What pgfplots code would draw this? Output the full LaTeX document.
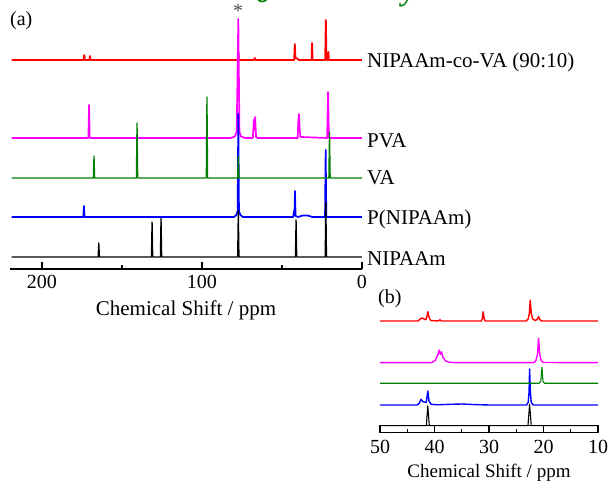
\documentclass[border=0pt]{standalone}
\usepackage{fontspec}
\setmainfont{Liberation Serif}
\usepackage{pgfplots}
\pgfplotsset{compat=1.18}
\definecolor{cRed}{RGB}{255,0,0}
\definecolor{cMag}{RGB}{255,0,255}
\definecolor{cGrn}{RGB}{0,128,0}
\definecolor{cBlu}{RGB}{0,0,255}

\pgfplotsset{
  nmr/.style={
    scale only axis, anchor=south west, clip=false,
    x dir=reverse, xtick align=inside,
    axis line style={line width=1.2pt},
    tick style={line width=1.2pt, black},
    ticklabel style={font=\fontsize{20}{24}\selectfont},
    /pgf/number format/assume math mode=true,
  },
  trace/.style={line width=1.3pt, line join=round, mark=none},
}

\begin{document}
\begin{tikzpicture}
\useasboundingbox (0,0) rectangle (608pt,481pt);

% ---- (a) full spectra ----
\begin{axis}[nmr,
  at={(10pt,212pt)}, width=352pt, height=268pt,
  xmin=0, xmax=220, ymin=0, ymax=268,
  axis x line*=bottom, hide y axis,
  xtick={0,100,200}, minor xtick={50,150},
  major tick length=7pt, minor tick length=3.5pt,
  xticklabel style={yshift=-3pt},
  xlabel={Chemical Shift / ppm},
  xlabel style={font=\fontsize{21}{25}\selectfont, yshift=-5pt},
]
% NIPAAm-co-VA
\addplot[trace, cRed, line width=1.8pt] coordinates {
(219,209)(174.0,209)(173.6,214)(173.2,209)(170.4,209)(170.0,213)(169.6,209)
(77.7,209)(77.3,217)(76.9,209)(67.5,209)(67,211)(66.5,209)
(42.4,209)(42.0,225)(41.6,211)(40.5,210.5)(39.5,209)
(31.5,209)(31.2,226)(30.9,209)(23,209)(22.6,249)(22.2,209)
(21.3,209)(21.0,217)(20.7,209)(0,209)};
% PVA
\addplot[trace, cMag, line width=1.7pt] coordinates {
(219,131)(171,131)(170.6,164)(170.2,131)
(82,131)(79.5,132.5)(78.3,137)(77.3,250)(76.6,137)(75.6,132.5)(73,131)
(68.2,131)(67.6,149)(67.2,140)(66.8,152)(66.2,132)(65,131)
(40.2,131)(39.8,148)(39.4,155)(39.0,140)(38.5,132)
(21.8,131)(21.2,177)(20.7,131)(0,131)};
% P(NIPAAm)
\addplot[trace, cBlu, line width=1.7pt] coordinates {
(219,52)(174.2,52)(173.8,63)(173.4,52)
(80,52)(78.5,54)(77.7,58)(77.3,155)(76.9,58)(76,54)(74.5,52)
(43,52)(42.5,58)(42.2,54)(41.9,78)(41.5,53)(40,52)(37,53.5)(34,53.5)(31,52)
(23.1,52)(22.7,119)(22.3,52)(0,52)};
% VA
\addplot[trace, cGrn] coordinates {
(219,91)(167.9,91)(167.5,113)(167.1,91)(141,91)(140.6,146)(140.2,91)
(97.3,91)(96.9,172)(96.5,91)(77.7,91)(77.3,113)(76.9,91)
(20.7,91)(20.3,137)(19.9,91)(0,91)};
% NIPAAm
\addplot[trace, black] coordinates {
(219,12)(164.9,12)(164.5,26)(164.1,12)(131.6,12)(131.2,47)(130.8,12)
(126,12)(125.6,51)(125.2,12)(77.7,12)(77.3,58)(76.9,12)
(41.6,12)(41.2,49)(40.8,12)(23,12)(22.6,67)(22.2,12)(0,12)};
\end{axis}

% ---- (b) 10-50 ppm region ----
\begin{axis}[nmr,
  at={(380pt,48.7pt)}, width=218pt, height=6.6pt,
  xmin=10, xmax=50, ymin=0, ymax=6.6,
  ytick=\empty, xtick={10,20,30,40,50}, minor xtick={15,25,35,45},
  xtick pos=left, major tick length=6.6pt, minor tick length=3.5pt,
  xticklabel style={yshift=-4pt},
  xlabel={Chemical Shift / ppm},
  xlabel style={font=\fontsize{19}{23}\selectfont, yshift=-4pt},
]
\addplot[trace, cRed, line width=1.4pt] coordinates {
(50,111.3)(43,111.3)(42.6,113.5)(42.3,114.3)(42.0,113.5)(41.6,112.5)(41.4,115.5)
(41.23,120.6)(41.0,115)(40.7,111.8)(39.3,111.3)(39.0,112.5)(38.7,111.3)
(31.4,111.3)(31.2,114)(31.07,120.6)(30.9,114)(30.7,111.3)
(23.2,111.3)(22.8,113.5)(22.6,119)(22.43,132.3)(22.25,119)(22.0,113.5)(21.6,112)
(21.2,112.5)(20.9,115.6)(20.6,112)(20.2,111.3)(10,111.3)};
\addplot[trace, cMag, line width=1.4pt] coordinates {
(50,69.6)(40.6,69.6)(39.9,71.5)(39.5,76)(39.3,79)(39.15,82.3)(38.95,78)(38.7,80.5)
(38.45,75)(38.0,71.5)(37.3,70)(36,69.6)
(21.8,69.6)(21.4,71.5)(21.1,78)(20.9,94)(20.7,78)(20.4,71.5)(20.0,69.8)(10,69.6)};
\addplot[trace, cBlu, line width=1.4pt] coordinates {
(50,27.3)(43.2,27.3)(42.8,29)(42.46,33)(42.1,30.5)(41.5,30)(41.23,41.3)(41.0,31)
(40.6,28)(39.5,27.5)(37,28)(35,28.3)(33,27.8)(30,27.3)
(23.1,27.3)(22.8,30)(22.65,40)(22.55,63.3)(22.4,40)(22.25,30)(21.9,27.3)(10,27.3)};
\addplot[trace, cGrn, line width=1.1pt] coordinates {
(50,49)(20.8,49)(20.5,51)(20.28,65)(20.1,51)(19.8,49)(10,49)};
\addplot[trace, black, line width=1.1pt] coordinates {
(50,6.6)(41.5,6.6)(41.23,26.3)(40.95,6.6)(22.85,6.6)(22.55,28)(22.25,6.6)(10,6.6)};
\end{axis}

% ---- labels ----
\begin{scope}[every node/.style={font=\fontsize{21}{25}\selectfont, inner sep=0pt, anchor=base west}]
\node at (367pt,413.7pt) {NIPAAm-co-VA (90:10)};
\node at (367pt,333.7pt) {PVA};
\node at (367pt,296pt) {VA};
\node at (367pt,256pt) {P(NIPAAm)};
\node at (367pt,215.3pt) {NIPAAm};
\node[font=\fontsize{20}{24}\selectfont] at (10pt,455pt) {(a)};
\node[font=\fontsize{20}{24}\selectfont] at (378pt,177pt) {(b)};
\node[font=\fontsize{20}{24}\selectfont, text=black!70, anchor=base] at (238pt,463pt) {*};
\node[font=\fontsize{30}{34}\selectfont\bfseries\itshape, text=cGrn] at (256pt,478.5pt) {o};
\node[font=\fontsize{30}{34}\selectfont\bfseries\itshape, text=cGrn] at (402pt,480.5pt) {y};
\end{scope}
\end{tikzpicture}
\end{document}
